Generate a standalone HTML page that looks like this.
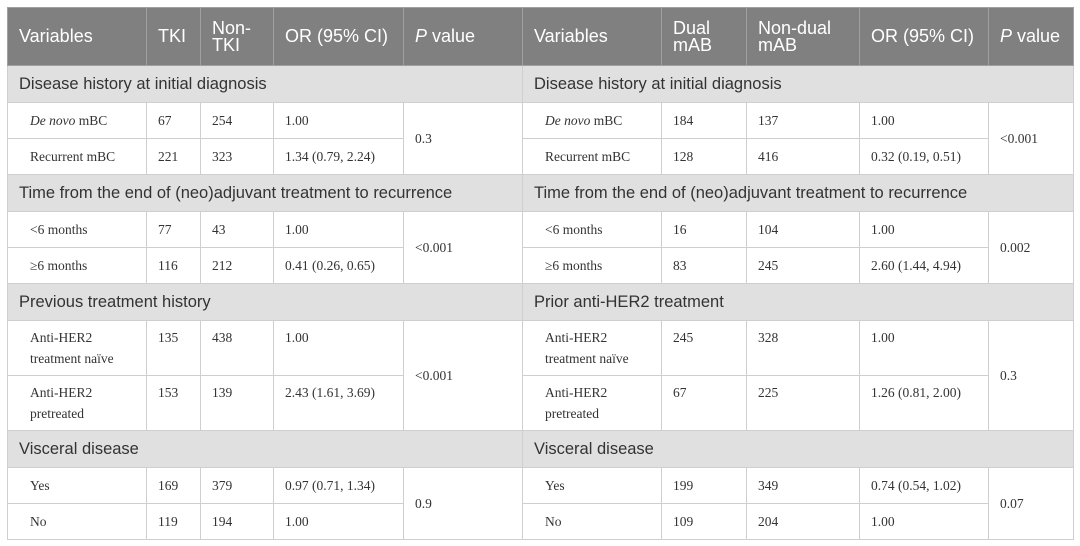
<!DOCTYPE html>
<html><head><meta charset="utf-8"><style>
body{margin:0;background:#fff;width:1080px;height:546px;overflow:hidden}
table{position:absolute;left:7px;top:7px;border-collapse:collapse;table-layout:fixed;width:1066px;border:1px solid #bdbdbd}
td,th{border:1px solid #cfcfcf;padding:0 0 0 11px;vertical-align:middle;overflow:hidden;white-space:nowrap}
th{background:#808080;color:#fff;font:400 18px "Liberation Sans",sans-serif;text-align:left;height:57px;line-height:17px;border-color:#a0a0a0}
td.s{background:#e0e0e0;font:16.5px "Liberation Sans",sans-serif;color:#333;height:36px;padding-left:11px}
td{font:13.5px "Liberation Serif",serif;color:#333;height:35px;line-height:21px}
td.v{padding-left:22px}
.top{vertical-align:top;padding-top:6px}
.mid{border-left:1.5px solid #9a9a9a}
</style></head><body>
<table>
<colgroup><col style="width:139px"><col style="width:54px"><col style="width:73px"><col style="width:130px"><col style="width:119px"><col style="width:139px"><col style="width:85px"><col style="width:113px"><col style="width:129px"><col style="width:85px"></colgroup>
<tr><th>Variables</th><th>TKI</th><th>Non-<br>TKI</th><th>OR (95% CI)</th><th><i>P</i> value</th><th class="mid">Variables</th><th>Dual<br>mAB</th><th>Non-dual<br>mAB</th><th>OR (95% CI)</th><th><i>P</i> value</th></tr>
<tr><td class="s" colspan="5">Disease history at initial diagnosis</td><td class="s mid" colspan="5">Disease history at initial diagnosis</td></tr>
<tr><td class="v"><i>De novo</i> mBC</td><td>67</td><td>254</td><td>1.00</td><td rowspan="2">0.3</td><td class="v mid"><i>De novo</i> mBC</td><td>184</td><td>137</td><td>1.00</td><td rowspan="2">&lt;0.001</td></tr>
<tr><td class="v">Recurrent mBC</td><td>221</td><td>323</td><td>1.34 (0.79, 2.24)</td><td class="v mid">Recurrent mBC</td><td>128</td><td>416</td><td>0.32 (0.19, 0.51)</td></tr>
<tr><td class="s" colspan="5">Time from the end of (neo)adjuvant treatment to recurrence</td><td class="s mid" colspan="5">Time from the end of (neo)adjuvant treatment to recurrence</td></tr>
<tr><td class="v">&lt;6 months</td><td>77</td><td>43</td><td>1.00</td><td rowspan="2">&lt;0.001</td><td class="v mid">&lt;6 months</td><td>16</td><td>104</td><td>1.00</td><td rowspan="2">0.002</td></tr>
<tr><td class="v">≥6 months</td><td>116</td><td>212</td><td>0.41 (0.26, 0.65)</td><td class="v mid">≥6 months</td><td>83</td><td>245</td><td>2.60 (1.44, 4.94)</td></tr>
<tr><td class="s" colspan="5">Previous treatment history</td><td class="s mid" colspan="5">Prior anti-HER2 treatment</td></tr>
<tr><td class="v top" style="height:48px">Anti-HER2<br>treatment naïve</td><td class="top">135</td><td class="top">438</td><td class="top">1.00</td><td rowspan="2">&lt;0.001</td><td class="v mid top">Anti-HER2<br>treatment naïve</td><td class="top">245</td><td class="top">328</td><td class="top">1.00</td><td rowspan="2">0.3</td></tr>
<tr><td class="v top" style="height:48px">Anti-HER2<br>pretreated</td><td class="top">153</td><td class="top">139</td><td class="top">2.43 (1.61, 3.69)</td><td class="v mid top">Anti-HER2<br>pretreated</td><td class="top">67</td><td class="top">225</td><td class="top">1.26 (0.81, 2.00)</td></tr>
<tr><td class="s" colspan="5">Visceral disease</td><td class="s mid" colspan="5">Visceral disease</td></tr>
<tr><td class="v">Yes</td><td>169</td><td>379</td><td>0.97 (0.71, 1.34)</td><td rowspan="2">0.9</td><td class="v mid">Yes</td><td>199</td><td>349</td><td>0.74 (0.54, 1.02)</td><td rowspan="2">0.07</td></tr>
<tr><td class="v">No</td><td>119</td><td>194</td><td>1.00</td><td class="v mid">No</td><td>109</td><td>204</td><td>1.00</td></tr>
</table>
</body></html>
